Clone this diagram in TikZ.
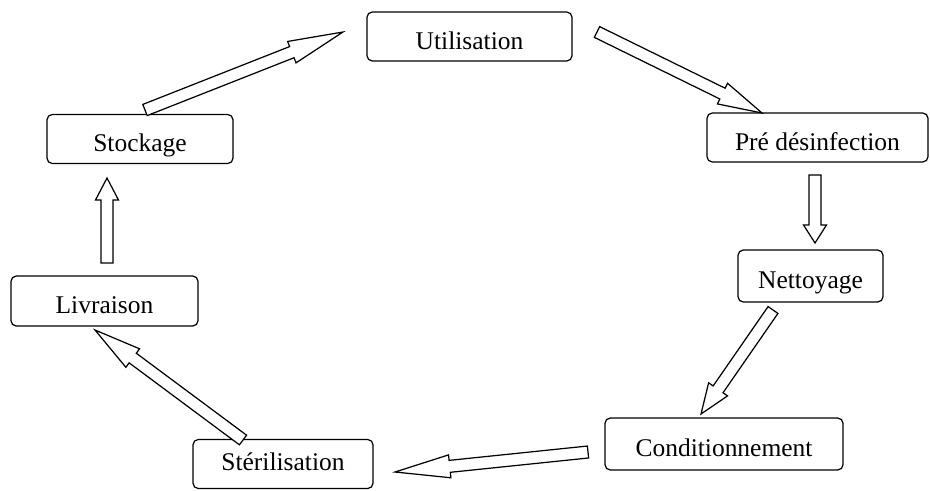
\documentclass[tikz,border=0pt]{standalone}
\usepackage{fontspec}
\setmainfont{Liberation Serif}
\usetikzlibrary{calc}

\newcommand{\shaftw}{0.12cm}
\newcommand{\headw}{0.23cm}

\begin{document}
\begin{tikzpicture}[%
    stage/.style={%
        draw,
        rectangle,
        rounded corners=3pt,
        line width=0.7pt,
        inner sep=2pt,
        minimum height=0.98cm,
        text height=1.45em,
        text depth=0em,
        font=\fontsize{14.5}{17}\selectfont
    },
    head len/.store in=\headlen,
    head len=0.5cm,
    flow/.style={%
        draw,
        fill=white,
        line width=0.7pt,
        line join=miter,
        to path={%
            ($(\tikztostart)!\shaftw!90:(\tikztotarget)$)
            -- ($(\tikztotarget)!\headlen!(\tikztostart)!\shaftw!-90:(\tikztostart)$)
            -- ($(\tikztotarget)!\headlen!(\tikztostart)!\headw!-90:(\tikztostart)$)
            -- (\tikztotarget)
            -- ($(\tikztotarget)!\headlen!(\tikztostart)!\headw!90:(\tikztostart)$)
            -- ($(\tikztotarget)!\headlen!(\tikztostart)!\shaftw!90:(\tikztostart)$)
            -- ($(\tikztostart)!\shaftw!-90:(\tikztotarget)$)
            -- cycle
        }
    }
]
\useasboundingbox (0,0) rectangle (18.6,9.8);

% Stages of the cycle
    \node[stage, minimum width=4.1cm] (util) at (9.39,9.07) {Utilisation};
    \node[stage, minimum width=4.42cm] (predes) at (16.35,7.05) {Pré désinfection};
    \node[stage, minimum width=2.9cm, minimum height=1.04cm] (nett) at (16.21,4.28) {Nettoyage};
    \node[stage, minimum width=4.76cm, minimum height=1.04cm] (cond) at (14.48,0.92) {Conditionnement};
    \node[stage, minimum width=3.6cm, text height=1.0em, text depth=0.25em] (steril) at (5.66,0.52) {Stérilisation};
    \node[stage, minimum width=3.74cm, minimum height=1.0cm] (livr) at (2.09,3.78) {Livraison};
    \node[stage, minimum width=3.72cm] (stock) at (2.8,7.02) {Stockage};

% Arrow ends
    \coordinate (stockOut) at (2.9,7.6);
    \coordinate (utilIn) at (6.86,9.16);
    \coordinate (utilOut) at (11.94,9.16);
    \coordinate (predesIn) at (15.24,7.54);
    \coordinate (predesOut) at (16.3,6.3);
    \coordinate (nettIn) at (16.3,4.94);
    \coordinate (nettOut) at (15.46,3.6);
    \coordinate (condIn) at (14.02,1.52);
    \coordinate (condOut) at (11.76,0.76);
    \coordinate (sterilIn) at (7.9,0.36);
    \coordinate (sterilOut) at (4.86,1.0);
    \coordinate (livrIn) at (1.9,3.2);
    \coordinate (livrOut) at (2.14,4.54);
    \coordinate (stockIn) at (2.14,6.24);

% Arrows
\draw[flow, head len=1.1cm] (stockOut) to (utilIn);
\draw[flow, head len=0.88cm] (utilOut) to (predesIn);
\draw[flow, head len=0.36cm] (predesOut) to (nettIn);
\draw[flow, head len=0.6cm] (nettOut) to (condIn);
\draw[flow, head len=1.1cm] (condOut) to (sterilIn);
\draw[flow, head len=0.94cm] (sterilOut) to (livrIn);
\draw[flow, head len=0.44cm] (livrOut) to (stockIn);

\end{tikzpicture}
\end{document}
